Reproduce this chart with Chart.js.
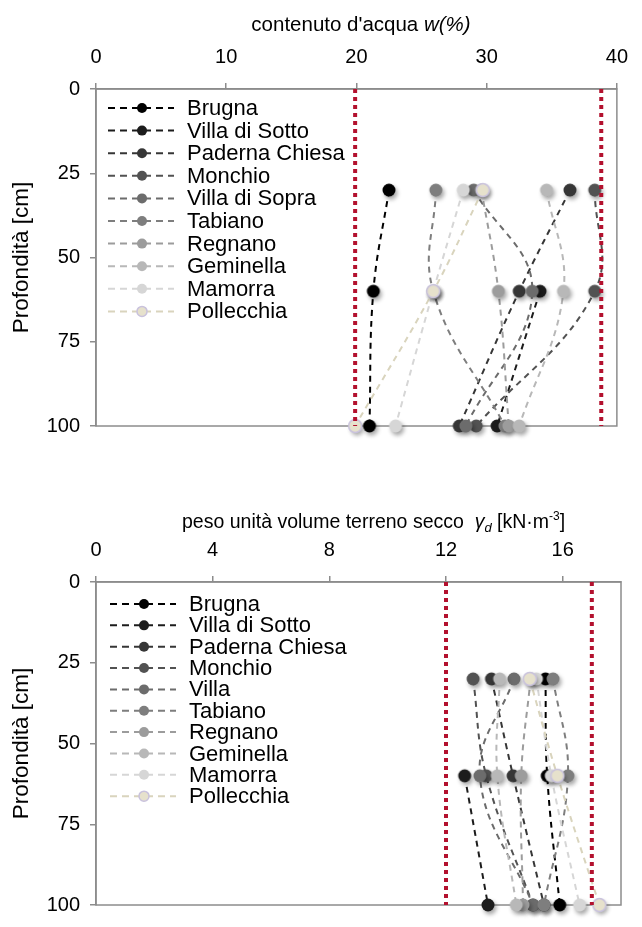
<!DOCTYPE html>
<html>
<head>
<meta charset="utf-8">
<script src="https://cdn.jsdelivr.net/npm/chart.js@4.4.1/dist/chart.umd.min.js"></script>
<style>
  body { margin: 0; background: #fff; }
  canvas { display: block; }
</style>
</head>
<body>
<canvas id="chartW" width="642" height="470"></canvas>
<canvas id="chartG" width="642" height="457"></canvas>
<script>
// depths of the samples (cm)
const depths = [30, 60, 100];
const sitesW = ['Brugna', 'Villa di Sotto', 'Paderna Chiesa', 'Monchio', 'Villa di Sopra',
  'Tabiano', 'Regnano', 'Geminella', 'Mamorra', 'Pollecchia'];
const sitesG = ['Brugna', 'Villa di Sotto', 'Paderna Chiesa', 'Monchio', 'Villa',
  'Tabiano', 'Regnano', 'Geminella', 'Mamorra', 'Pollecchia'];

// contenuto d'acqua w (%) at 30, 60, 100 cm, one row per site
const waterContent = [
  [22.5, 21.3, 21.0],
  [null, 34.1, 30.8],
  [36.4, 32.5, 27.9],
  [38.3, 38.3, 29.2],
  [29.0, 33.5, 28.4],
  [26.1, 25.9, 31.4],
  [29.6, 30.9, 31.7],
  [34.6, 35.9, 32.5],
  [28.2, 25.9, 23.0],
  [29.7, 25.9, 19.9]
];
// peso unita volume secco (kN/m3)
const dryWeight = [
  [15.41, 15.47, 15.90],
  [null, 12.64, 13.44],
  [13.56, 14.30, 15.36],
  [12.93, 13.38, 14.98],
  [14.33, 13.16, 14.98],
  [15.67, 16.18, 15.36],
  [14.90, 14.58, 14.64],
  [13.84, 13.76, 14.41],
  [15.10, 15.61, 16.58],
  [14.87, 15.82, 17.26]
];
// red dotted reference lines
const limitsW = [19.9, 38.8];
const limitsG = [12, 17];
const depthRange = [0, 100];

const lineColors = ['#000000', '#1c1c1c', '#363636', '#525252', '#6c6c6c',
  '#7e7e7e', '#9c9c9c', '#b8b8b8', '#d6d6d6', '#d9d4bd'];
const dotColors = ['#000000', '#1c1c1c', '#363636', '#525252', '#6c6c6c',
  '#7e7e7e', '#9c9c9c', '#b8b8b8', '#d6d6d6', '#e6e1cc'];

Chart.defaults.font.family = "'Liberation Sans', Arial, sans-serif";
Chart.defaults.color = '#000';

function dotImage(fill, stroke) {
  const c = document.createElement('canvas');
  c.width = 28; c.height = 28;
  const g = c.getContext('2d');
  g.shadowColor = 'rgba(0,0,0,0.35)';
  g.shadowBlur = 4;
  g.shadowOffsetX = 2;
  g.shadowOffsetY = 3;
  g.beginPath();
  g.arc(14, 14, 6.5, 0, Math.PI * 2);
  g.fillStyle = fill;
  g.fill();
  if (stroke) {
    g.shadowColor = 'transparent';
    g.lineWidth = 1.5;
    g.strokeStyle = stroke;
    g.stroke();
  }
  return c;
}

function makeDatasets(names, rows, limits) {
  const sets = names.map((name, i) => ({
    label: name,
    data: depths.map((d, k) => ({ x: rows[i][k], y: d })).filter(p => p.x !== null),
    showLine: true,
    borderColor: lineColors[i],
    borderWidth: 2,
    borderDash: [6, 5],
    tension: 0.4,
    pointStyle: dotImage(dotColors[i], i === 9 ? '#c9c2dd' : null),
    pointRadius: 7,
    clip: false,
    order: 20 - i,
    legendDot: dotColors[i],
    legendStroke: i === 9 ? '#c9c2dd' : null
  }));
  limits.forEach(v => {
    sets.push({
      label: '',
      data: depthRange.map(d => ({ x: v, y: d })),
      showLine: true,
      borderColor: '#b3112e',
      borderWidth: 4,
      borderDash: [4, 4],
      pointRadius: 0,
      tension: 0,
      order: -1,
      isLimit: true
    });
  });
  return sets;
}

const frame = {
  id: 'frame',
  beforeDatasetsDraw(chart) {
    const a = chart.chartArea, ctx = chart.ctx;
    ctx.save();
    ctx.strokeStyle = '#8c8c8c';
    ctx.lineWidth = 1.5;
    ctx.strokeRect(a.left, a.top, a.right - a.left, a.bottom - a.top);
    ctx.restore();
  }
};

const dashLegend = {
  id: 'dashLegend',
  afterDraw(chart, args, opts) {
    const ctx = chart.ctx;
    let y = opts.y;
    chart.data.datasets.forEach(ds => {
      if (ds.isLimit) return;
      ctx.save();
      ctx.strokeStyle = ds.borderColor;
      ctx.lineWidth = 2;
      ctx.setLineDash([7, 5]);
      ctx.beginPath();
      ctx.moveTo(opts.x, y);
      ctx.lineTo(opts.x + 66, y);
      ctx.stroke();
      ctx.setLineDash([]);
      ctx.beginPath();
      ctx.arc(opts.x + 34, y, 5, 0, Math.PI * 2);
      ctx.fillStyle = ds.legendDot;
      ctx.fill();
      if (ds.legendStroke) {
        ctx.lineWidth = 1.5;
        ctx.strokeStyle = ds.legendStroke;
        ctx.stroke();
      }
      ctx.fillStyle = '#000';
      ctx.font = "22px 'Liberation Sans', Arial, sans-serif";
      ctx.textBaseline = 'middle';
      ctx.fillText(ds.label, opts.x + 79, y + 1);
      ctx.restore();
      y += opts.step;
    });
  }
};

const richTitle = {
  id: 'richTitle',
  afterDraw(chart, args, opts) {
    const ctx = chart.ctx;
    ctx.save();
    ctx.fillStyle = '#000';
    ctx.textBaseline = 'alphabetic';
    const fontOf = p => (p.italic ? 'italic ' : '') + p.size + "px 'Liberation Sans', Arial, sans-serif";
    let total = 0;
    opts.parts.forEach(p => { ctx.font = fontOf(p); total += ctx.measureText(p.t).width; });
    let x = opts.left !== undefined ? opts.left : opts.cx - total / 2;
    opts.parts.forEach(p => {
      ctx.font = fontOf(p);
      ctx.fillText(p.t, x, opts.y + (p.dy || 0));
      x += ctx.measureText(p.t).width;
    });
    ctx.restore();
  }
};

function makeChart(id, names, rows, limits, cfg) {
  return new Chart(document.getElementById(id), {
    type: 'scatter',
    data: { datasets: makeDatasets(names, rows, limits) },
    plugins: [frame, dashLegend, richTitle],
    options: {
      responsive: false,
      animation: false,
      events: [],
      layout: { padding: { left: 0, top: 0, right: cfg.padRight, bottom: cfg.padBottom } },
      plugins: {
        legend: { display: false },
        tooltip: { enabled: false },
        dashLegend: cfg.legend,
        richTitle: cfg.title
      },
      scales: {
        x: {
          type: 'linear',
          position: 'top',
          min: 0,
          max: cfg.xMax,
          ticks: { stepSize: cfg.xStep, includeBounds: false, font: { size: 20 }, color: '#000', padding: 14 },
          grid: { drawOnChartArea: false, drawTicks: true, tickLength: 6, color: '#8c8c8c', lineWidth: 1.5 },
          border: { display: true, color: '#8c8c8c', width: 1.5 },
          afterFit(s) { s.height = cfg.top; }
        },
        y: {
          type: 'linear',
          reverse: true,
          min: 0,
          max: 100,
          ticks: { stepSize: 25, font: { size: 20 }, color: '#000', padding: 10 },
          grid: { drawOnChartArea: false, drawTicks: true, tickLength: 6, color: '#8c8c8c', lineWidth: 1.5 },
          border: { display: true, color: '#8c8c8c', width: 1.5 },
          title: { display: true, text: 'Profondità [cm]', font: { size: 22.5 }, color: '#000', padding: { top: 8, bottom: 0 } },
          afterFit(s) { s.width = 96; }
        }
      }
    }
  });
}

makeChart('chartW', sitesW, waterContent, limitsW, {
  xMax: 40, xStep: 10, top: 89, padRight: 15, padBottom: 44,
  legend: { x: 108, y: 108, step: 22.6 },
  title: { cx: 361, y: 31, parts: [
    { t: "contenuto d'acqua ", size: 20.5 },
    { t: 'w(%)', size: 20.5, italic: true }
  ] }
});

makeChart('chartG', sitesG, dryWeight, limitsG, {
  xMax: 18, xStep: 4, top: 112, padRight: 21, padBottom: 9,
  legend: { x: 110, y: 134, step: 21.35 },
  title: { left: 182, y: 58, parts: [
    { t: 'peso unità volume terreno secco  ', size: 19.5 },
    { t: 'γ', size: 19.5, italic: true },
    { t: 'd', size: 13, italic: true, dy: 4 },
    { t: ' [kN·m', size: 19.5 },
    { t: '-3', size: 12, dy: -8 },
    { t: ']', size: 19.5 }
  ] }
});
</script>
</body>
</html>
